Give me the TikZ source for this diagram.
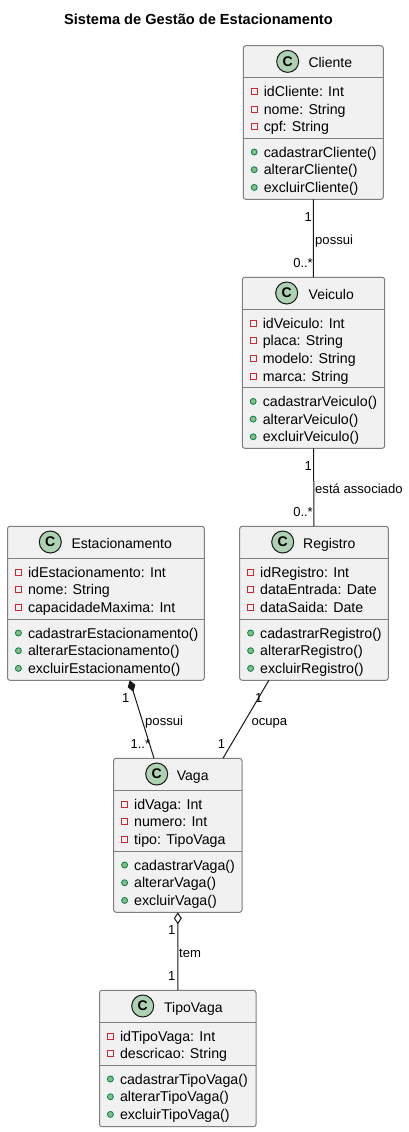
\documentclass[tikz,border=0pt]{standalone}
\usepackage{fontspec}
\setmainfont{Liberation Sans}
\usetikzlibrary{arrows.meta}
\definecolor{boxfill}{HTML}{F1F1F1}
\definecolor{boxline}{HTML}{7F7F7F}
\definecolor{ink}{HTML}{181818}
\definecolor{iconfill}{HTML}{ADD1B2}
\definecolor{privline}{HTML}{C82930}
\definecolor{pubfill}{HTML}{84BE84}
\definecolor{publine}{HTML}{038048}
\tikzset{
  classbox/.style={draw=boxline,fill=boxfill,line width=1pt,rounded corners=2.5pt,inner sep=0pt,outer sep=0pt},
  divider/.style={draw=boxline,line width=1pt},
  icon/.style={circle,draw=ink,fill=iconfill,line width=1pt,minimum size=22pt,inner sep=0pt,font=\fontsize{14}{14}\selectfont\bfseries},
  classname/.style={anchor=base west,inner sep=0pt,text=black,font=\fontsize{14}{14}\selectfont},
  member/.style={anchor=base west,inner sep=0pt,text=black,font=\fontsize{14.2}{14.2}\selectfont},
  linklabel/.style={anchor=base west,inner sep=0pt,text=black,font=\fontsize{13.1}{13.1}\selectfont},
  multleft/.style={anchor=base east,inner sep=0pt,text=black,font=\fontsize{13}{13}\selectfont},
  link/.style={draw=ink,line width=1pt},
  privmark/.style={draw=privline,line width=1pt,fill=none},
  pubmark/.style={draw=publine,line width=.8pt,fill=pubfill},
}
% id, left, right, top, bottom, second divider, icon x, title x, title
\newcommand{\umlclass}[9]{%
  \node[classbox,minimum width={(#3-#2)*1pt},minimum height={(#5-#4)*1pt}] (#1) at ({(#2+#3)/2},{(#4+#5)/2}) {};
  \draw[divider] (#2,#4+32) -- (#3,#4+32);
  \draw[divider] (#2,#6) -- (#3,#6);
  \node[icon] (#1-icon) at (#7,#4+15.7) {C};
  \node[classname] (#1-name) at (#8,#4+21.7) {#9};
}
% id, left, divider y, list
\newcommand{\umlattrs}[4]{%
  \foreach \t [count=\n from 0] in {#4} {
    \draw[privmark] ({round(#2+7.7)+.5},{round(#3+10.2+\n*17.7)+.5}) rectangle ++(6,6);
    \node[member] (#1-a\n) at (#2+20.3,#3+18.7+\n*17.7) {\t};
  }
}
\newcommand{\umlmethods}[4]{%
  \foreach \t [count=\n from 0] in {#4} {
    \draw[pubmark] (#2+10.9,#3+13.7+\n*17.7) circle (3);
    \node[member] (#1-m\n) at (#2+20.3,#3+18.7+\n*17.7) {\t};
  }
}
\begin{document}
\begin{tikzpicture}[x=1pt,y=-1pt]
\useasboundingbox[fill=white] (0,0) rectangle (409,1132);
\node[anchor=base west,inner sep=0pt,font=\fontsize{14.6}{14.6}\selectfont\bfseries] (title) at (64,24.7) {Sistema de Gestão de Estacionamento};

\umlclass{cliente}{243.3}{383.3}{45.7}{199.3}{138.3}{287.7}{308.3}{Cliente}
\umlattrs{cliente}{243.3}{77.7}{idCliente: Int,nome: String,cpf: String}
\umlmethods{cliente}{243.3}{138.3}{cadastrarCliente(),alterarCliente(),excluirCliente()}

\umlclass{veiculo}{242.3}{384.7}{277.3}{448.3}{387.7}{286.7}{308.5}{Veiculo}
\umlattrs{veiculo}{242.3}{309.3}{idVeiculo: Int,placa: String,modelo: String,marca: String}
\umlmethods{veiculo}{242.3}{387.7}{cadastrarVeiculo(),alterarVeiculo(),excluirVeiculo()}

\umlclass{registro}{239.7}{388.3}{526.3}{680.3}{619.3}{282.7}{303}{Registro}
\umlattrs{registro}{239.7}{558.3}{idRegistro: Int,dataEntrada: Date,dataSaida: Date}
\umlmethods{registro}{239.7}{619.3}{cadastrarRegistro(),alterarRegistro(),excluirRegistro()}

\umlclass{estac}{7.5}{204.3}{526.3}{680.3}{619.3}{50.3}{71.3}{Estacionamento}
\umlattrs{estac}{7.5}{558.3}{idEstacionamento: Int,nome: String,capacidadeMaxima: Int}
\umlmethods{estac}{7.5}{619.3}{cadastrarEstacionamento(),alterarEstacionamento(),excluirEstacionamento()}

\umlclass{vaga}{113.7}{242}{758.3}{912.3}{851.3}{156.7}{176.7}{Vaga}
\umlattrs{vaga}{113.7}{790.3}{idVaga: Int,numero: Int,tipo: TipoVaga}
\umlmethods{vaga}{113.7}{851.3}{cadastrarVaga(),alterarVaga(),excluirVaga()}

\umlclass{tipo}{99.5}{256}{990.3}{1126.7}{1065.3}{142.7}{164}{TipoVaga}
\umlattrs{tipo}{99.5}{1022.3}{idTipoVaga: Int,descricao: String}
\umlmethods{tipo}{99.5}{1065.3}{cadastrarTipoVaga(),alterarTipoVaga(),excluirTipoVaga()}

\draw[link] (cliente) -- (veiculo);
\draw[link] (veiculo) -- (registro);
\draw[link,{Diamond[length=12pt,width=8pt,fill=ink]}-] (estac) -- (vaga);
\draw[link] (registro) -- (vaga);
\draw[link,{Diamond[length=12pt,width=8pt,open]}-] (vaga) -- (tipo);

\node[multleft] (m1) at (312,221) {1};
\node[linklabel] (l1) at (315,244) {possui};
\node[multleft] (m2) at (313,267.3) {0..*};
\node[multleft] (m3) at (312,470) {1};
\node[linklabel] (l2) at (315,493) {está associado};
\node[multleft] (m4) at (313,516.3) {0..*};
\node[multleft] (m5) at (129.5,702.3) {1};
\node[linklabel] (l3) at (145,725) {possui};
\node[multleft] (m6) at (150.3,748.3) {1..*};
\node[multleft] (m7) at (262.5,702.3) {1};
\node[linklabel] (l4) at (251.3,725) {ocupa};
\node[multleft] (m8) at (225.3,748.3) {1};
\node[multleft] (m9) at (175.5,934.3) {1};
\node[linklabel] (l5) at (179,957.3) {tem};
\node[multleft] (m10) at (175.5,980.3) {1};
\end{tikzpicture}
\end{document}
